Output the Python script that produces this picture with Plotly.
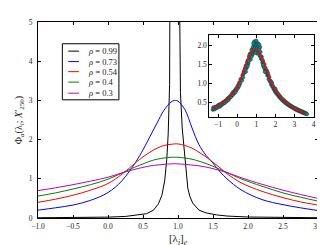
import plotly.graph_objects as go

# ---------------- data ----------------
x_curve = [-1.0, -0.75, -0.5, -0.25, 0.0, 0.2, 0.4, 0.5, 0.6, 0.7, 0.8, 0.9, 0.95, 1.0,
           1.1, 1.2, 1.3, 1.4, 1.5, 1.6, 1.7, 1.9, 2.2, 2.5, 2.75, 3.0]
y_073 = [0.20, 0.26, 0.33, 0.45, 0.65, 0.95, 1.44, 1.74, 2.08, 2.42, 2.75, 2.96, 3.00, 2.98,
         2.76, 2.30, 1.87, 1.60, 1.40, 1.18, 1.00, 0.72, 0.47, 0.34, 0.26, 0.19]
y_054 = [0.40, 0.48, 0.58, 0.71, 0.88, 1.12, 1.42, 1.56, 1.68, 1.78, 1.85, 1.88, 1.89, 1.89,
         1.85, 1.78, 1.68, 1.56, 1.42, 1.28, 1.13, 0.90, 0.68, 0.52, 0.41, 0.33]
y_040 = [0.56, 0.64, 0.74, 0.85, 0.99, 1.15, 1.31, 1.38, 1.45, 1.50, 1.53, 1.55, 1.55, 1.55,
         1.53, 1.50, 1.45, 1.39, 1.32, 1.24, 1.16, 1.00, 0.81, 0.64, 0.53, 0.43]
y_030 = [0.70, 0.77, 0.85, 0.94, 1.04, 1.15, 1.25, 1.29, 1.33, 1.35, 1.37, 1.38, 1.385, 1.38,
         1.37, 1.35, 1.33, 1.30, 1.26, 1.21, 1.16, 1.03, 0.86, 0.71, 0.60, 0.50]

x_099 = [-1.0, -0.5, 0.0, 0.25, 0.45, 0.55, 0.65, 0.72, 0.77, 0.81, 0.84, 0.86, 0.88, 0.893,
         0.91, 0.93, 0.957, 0.985, 1.005, 1.02, 1.035, 1.06, 1.096, 1.12, 1.14, 1.17, 1.21,
         1.3, 1.4, 1.55, 1.7, 2.0, 2.5, 3.0]
y_099 = [0.006, 0.01, 0.022, 0.04, 0.075, 0.11, 0.2, 0.36, 0.58, 0.95, 1.5, 2.15, 3.4, 5.0,
         9.0, 20.0, 40.0, 20.0, 9.0, 5.0, 3.2, 2.3, 1.55, 1.0, 0.76, 0.55, 0.38,
         0.2, 0.13, 0.08, 0.05, 0.025, 0.012, 0.007]

rho_labels = ["0.99", "0.73", "0.54", "0.4", "0.3"]
colors = ["black", "blue", "red", "#008000", "#bf00bf"]

# inset: sample points and fitted curve
fit_x = [-1.3, -1.0, -0.75, -0.5, -0.25, 0.0, 0.2, 0.4, 0.6, 0.8, 0.95, 1.1, 1.3, 1.5,
         1.7, 1.9, 2.2, 2.5, 2.75, 3.0, 3.3, 3.6]
fit_y = [0.33, 0.40, 0.48, 0.58, 0.71, 0.88, 1.12, 1.42, 1.68, 1.85, 1.89, 1.85, 1.68, 1.42,
         1.13, 0.90, 0.68, 0.52, 0.41, 0.33, 0.26, 0.20]

pts_x = [-1.28, -1.25, -1.22, -1.18, -1.15, -1.12, -1.08, -1.05, -1.02, -0.98, -0.95, -0.92,
         -0.88, -0.85, -0.82, -0.78, -0.75, -0.72, -0.68, -0.65, -0.62, -0.58, -0.55, -0.52,
         -0.48, -0.45, -0.42, -0.38, -0.35, -0.32, -0.28, -0.25, -0.22, -0.18, -0.15, -0.12,
         -0.08, -0.05, -0.02, 0.02, 0.05, 0.08, 0.12, 0.15, 0.18, 0.22, 0.25, 0.28, 0.32, 0.35,
         0.38, 0.42, 0.45, 0.48, 0.52, 0.55, 0.58, 0.62, 0.65, 0.68, 0.72, 0.75, 0.78, 0.82,
         0.85, 0.88, 0.92, 0.95, 0.98, 1.02, 1.05, 1.08, 1.12, 1.15, 1.18, 1.22, 1.25, 1.28,
         1.32, 1.35, 1.38, 1.42, 1.45, 1.48, 1.52, 1.55, 1.58, 1.62, 1.65, 1.68, 1.72, 1.75,
         1.78, 1.82, 1.85, 1.88, 1.92, 1.95, 1.98, 2.02, 2.05, 2.08, 2.12, 2.15, 2.18, 2.22,
         2.25, 2.28, 2.32, 2.35, 2.38, 2.42, 2.45, 2.48, 2.52, 2.55, 2.58, 2.62, 2.65, 2.68,
         2.72, 2.75, 2.78, 2.82, 2.85, 2.88, 2.92, 2.95, 2.98, 3.02, 3.05, 3.08, 3.12, 3.15,
         3.18, 3.22, 3.25, 3.28, 3.32, 3.35, 3.38, 3.42, 3.45, 3.48, 3.52, 3.55, 3.58, 3.62,
         3.65,
         0.90, 1.00, 1.10, 0.80, 0.70, 1.20, 1.05, 0.95, 0.60, 1.30, 0.50, 1.40, 0.30, 1.60,
         0.10, 1.80, -0.10, 2.00, 0.85, 1.15, 0.75, 1.25, 0.65, 1.35, 0.55, 0.45, 1.45, 0.40]
pts_y = [0.30, 0.36, 0.33, 0.31, 0.37, 0.34, 0.38, 0.35, 0.41, 0.39, 0.43, 0.38,
         0.44, 0.41, 0.46, 0.44, 0.49, 0.46, 0.51, 0.48, 0.53, 0.55, 0.52, 0.58,
         0.60, 0.56, 0.63, 0.62, 0.67, 0.64, 0.70, 0.74, 0.69, 0.77, 0.74, 0.81,
         0.79, 0.86, 0.83, 0.92, 0.88, 0.97, 1.02, 0.98, 1.10, 1.12, 1.07, 1.21, 1.25, 1.31,
         1.28, 1.40, 1.46, 1.39, 1.55, 1.60, 1.52, 1.70, 1.66, 1.78, 1.74, 1.88, 1.80, 1.95,
         1.86, 2.02, 1.92, 2.08, 1.84, 2.00, 1.93, 2.05, 1.80, 1.90, 1.72, 1.82, 1.64, 1.70,
         1.54, 1.58, 1.45, 1.50, 1.36, 1.40, 1.28, 1.33, 1.20, 1.22, 1.10, 1.16, 1.04, 1.06,
         0.96, 0.99, 0.90, 0.92, 0.84, 0.86, 0.78, 0.80, 0.73, 0.76, 0.69, 0.71, 0.65, 0.67,
         0.61, 0.63, 0.57, 0.59, 0.54, 0.56, 0.51, 0.53, 0.48, 0.50, 0.46, 0.47, 0.43, 0.45,
         0.41, 0.42, 0.39, 0.40, 0.37, 0.38, 0.35, 0.36, 0.33, 0.34, 0.31, 0.33, 0.29, 0.31,
         0.28, 0.29, 0.26, 0.28, 0.25, 0.26, 0.23, 0.25, 0.22, 0.23, 0.21, 0.22, 0.19, 0.20,
         0.18,
         2.10, 2.12, 1.98, 1.75, 1.62, 1.95, 1.78, 1.80, 1.58, 1.62, 1.48, 1.42, 1.15, 1.27,
         0.93, 1.02, 0.76, 0.85, 2.05, 2.02, 1.70, 1.68, 1.75, 1.48, 1.45, 1.30, 1.30, 1.36]

# ---------------- figure ----------------
fig = go.Figure()
series = [(x_099, y_099), (x_curve, y_073), (x_curve, y_054), (x_curve, y_040), (x_curve, y_030)]
for (xs, ys), c, lab in zip(series, colors, rho_labels):
    fig.add_trace(go.Scatter(x=xs, y=ys, mode="lines",
                             line=dict(color=c, width=1, shape="linear" if lab == "0.99" else "spline"),
                             name="ρ = " + lab, showlegend=False, xaxis="x", yaxis="y"))

fig.add_trace(go.Scatter(x=pts_x, y=pts_y, mode="markers", xaxis="x2", yaxis="y2",
                         marker=dict(size=3.5, color="#128585", line=dict(color="#0a3333", width=0.5)),
                         showlegend=False))
fig.add_trace(go.Scatter(x=fit_x, y=fit_y, mode="lines", xaxis="x2", yaxis="y2",
                         line=dict(color="red", width=1.5, shape="spline"), showlegend=False))

font_fam = "Liberation Serif, DejaVu Serif, serif"
axis_common = dict(showline=True, linecolor="black", linewidth=1, mirror="allticks",
                   ticks="inside", ticklen=3, tickcolor="black", showgrid=False, zeroline=False,
                   tickfont=dict(family=font_fam, size=7.5, color="#222"))

fig.update_layout(
    width=325, height=245,
    margin=dict(l=26, r=12, t=10, b=28.5),
    paper_bgcolor="white", plot_bgcolor="white",
    xaxis=dict(domain=[0, 1], range=[-1, 3], tickvals=[-1, -0.5, 0, 0.5, 1, 1.5, 2, 2.5, 3],
               tickformat=".1f", anchor="y", ticklabelstandoff=1,
               title=dict(text="[λ<sub><i>i</i></sub>]<sub><i>e</i></sub>", standoff=4,
                          font=dict(family=font_fam, size=11, color="#222")),
               **axis_common),
    yaxis=dict(domain=[0, 1], range=[0, 5], tickvals=[0, 1, 2, 3, 4, 5], anchor="x",
               ticklabelstandoff=3,
               title=dict(text="Φ<sub><i>a</i></sub>(λ<sub><i>i</i></sub>; <i>X</i>′<sub>250</sub>)",
                          standoff=4, font=dict(family=font_fam, size=10, color="#222")),
               **axis_common),
    xaxis2=dict(domain=[0.612, 0.984], range=[-1.46, 4], tickvals=[-1, 0, 1, 2, 3, 4],
                anchor="y2", **axis_common),
    yaxis2=dict(domain=[0.516, 0.932], range=[0.11, 2.26], tickvals=[0.5, 1.0, 1.5, 2.0],
                tickformat=".1f", anchor="x2", **axis_common),
)

# legend (drawn manually to match compact layout)
fig.add_shape(type="rect", xref="paper", yref="paper", x0=0.087, x1=0.289, y0=0.603, y1=0.889,
              line=dict(color="black", width=1), fillcolor="white")
row_px = [40.7, 51.7, 62.3, 73.3, 85.0]
for c, lab, py in zip(colors, rho_labels, row_px):
    yp = 1 - (py - 10) / 206.5
    fig.add_shape(type="line", xref="paper", yref="paper", x0=(57 - 26) / 287, x1=(68 - 26) / 287,
                  y0=yp, y1=yp, line=dict(color=c, width=1))
    fig.add_annotation(xref="paper", yref="paper", x=(75 - 26) / 287, y=yp, xanchor="left",
                       yanchor="middle", showarrow=False, text="<i>ρ</i> = " + lab,
                       font=dict(family=font_fam, size=8.5, color="#222"))

fig.write_html("out.html")
